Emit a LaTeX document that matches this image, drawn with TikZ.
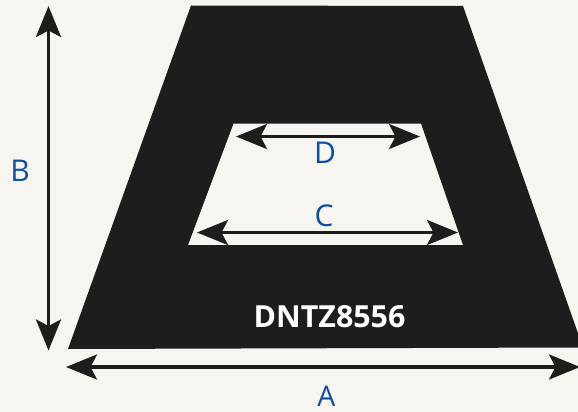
\documentclass[tikz,border=0pt]{standalone}
\usepackage{fontspec}
\setmainfont{Open Sans}
\usetikzlibrary{arrows.meta}
\definecolor{paper}{HTML}{F6F5F0}
\definecolor{ink}{HTML}{1D1D1B}
\definecolor{labelblue}{HTML}{0B4EA2}
\tikzset{
  dim/.style={draw=ink,line width=3.2pt,{Stealth[length=31pt,width=25pt,inset=6.5pt]}-{Stealth[length=31pt,width=25pt,inset=6.5pt]}},
  lab/.style={text=labelblue,inner sep=0pt,font=\fontsize{30}{30}\selectfont},
  labsmall/.style={text=labelblue,inner sep=0pt,font=\fontsize{28.5}{28.5}\selectfont},
  title/.style={text=white,inner sep=0pt,font=\fontsize{30.4}{30.4}\selectfont\bfseries}
}
\begin{document}
\begin{tikzpicture}[x=1pt,y=-1pt]
\useasboundingbox (0,0) rectangle (578,412);
\fill[paper] (0,0) rectangle (578,412);
\fill[ink,even odd rule] (191,5.5) -- (463,6) -- (583,347.5) -- (68,349) -- cycle
  (233.5,123.5) -- (421,123.5) -- (463,245) -- (188,245) -- cycle;
\coordinate (bt) at (48.5,6);
\coordinate (bb) at (48.5,350.5);
\coordinate (al) at (66,367);
\coordinate (ar) at (580,367);
\coordinate (dl) at (236,136.5);
\coordinate (dr) at (420,136.5);
\coordinate (cl) at (197,232.5);
\coordinate (cr) at (458,232.5);
\draw[dim] (bt) -- (bb);
\draw[dim] (al) -- (ar);
\draw[dim] (dl) -- (dr);
\draw[dim] (cl) -- (cr);
\node[labsmall] (labA) at (326.5,396) {A};
\node[lab] (labB) at (20,170.5) {B};
\node[lab] (labC) at (324,216) {C};
\node[lab] (labD) at (325,153) {D};
\node[title] (code) at (329.5,316.5) {DNTZ8556};
\end{tikzpicture}
\end{document}
